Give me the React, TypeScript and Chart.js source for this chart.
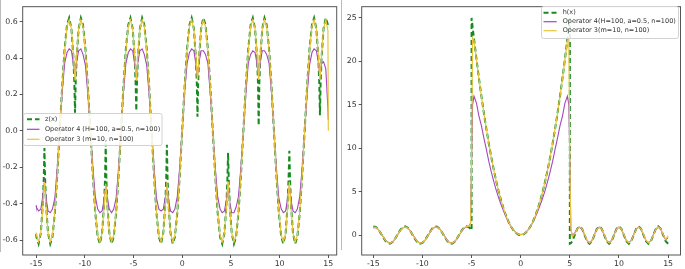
import React, { useEffect, useRef } from "react";
import { Chart, registerables } from "chart.js";
Chart.register(...registerables);

// ---------- Left panel: z(x) and two operator approximations ----------
const zX = [
  -15, -14.96, -14.74, -14.51, -14.31, -14.21, -14.14, -14.07, -13.97, -13.77, -13.54, -13.32, -13.07, -12.82,
  -12.57, -12.32, -12.07, -11.82, -11.6, -11.37, -11.17, -11.07, -11.0, -10.93, -10.83, -10.63, -10.4, -10.18, -9.93, -9.68,
  -9.42, -9.17, -8.92, -8.67, -8.45, -8.22, -8.02, -7.92, -7.85, -7.78, -7.68, -7.48, -7.25, -7.03, -6.78, -6.53,
  -6.28, -6.03, -5.78, -5.53, -5.31, -5.08, -4.88, -4.78, -4.71, -4.64, -4.54, -4.34, -4.11, -3.89, -3.64, -3.39,
  -3.14, -2.89, -2.64, -2.39, -2.17, -1.94, -1.74, -1.64, -1.57, -1.5, -1.4, -1.2, -0.97, -0.75, -0.5, -0.25,
  0, 0.25, 0.5, 0.75, 0.97, 1.2, 1.4, 1.5, 1.57, 1.64, 1.74, 1.94, 2.17, 2.39, 2.64, 2.89,
  3.14, 3.39, 3.64, 3.89, 4.11, 4.34, 4.54, 4.64, 4.71, 4.78, 4.88, 5.08, 5.31, 5.53, 5.78, 6.03,
  6.28, 6.53, 6.78, 7.03, 7.25, 7.48, 7.68, 7.78, 7.85, 7.92, 8.02, 8.22, 8.45, 8.67, 8.92, 9.17,
  9.42, 9.67, 9.92, 10.17, 10.39, 10.62, 10.82, 10.92, 11.0, 11.07, 11.17, 11.37, 11.6, 11.82, 12.07, 12.32,
  12.57, 12.82, 13.07, 13.32, 13.54, 13.77, 13.97, 14.07, 14.14, 14.21, 14.31, 14.51, 14.74, 14.96, 15,
];
const zY = [
  -0.567, -0.583, -0.62, -0.561, -0.406, -0.265, -0.095, -0.265, -0.406, -0.561, -0.62, -0.583, -0.449, -0.243,
  0, 0.243, 0.449, 0.583, 0.62, 0.561, 0.406, 0.265, 0.1, 0.265, 0.406, 0.561, 0.62, 0.583, 0.449, 0.243,
  0, -0.243, -0.449, -0.583, -0.62, -0.561, -0.406, -0.265, -0.07, -0.265, -0.406, -0.561, -0.62, -0.583, -0.449, -0.243,
  0, 0.243, 0.449, 0.583, 0.62, 0.561, 0.406, 0.265, 0.11, 0.265, 0.406, 0.561, 0.62, 0.583, 0.449, 0.243,
  0, -0.243, -0.449, -0.583, -0.62, -0.561, -0.406, -0.265, -0.077, -0.265, -0.406, -0.561, -0.62, -0.583, -0.449, -0.243,
  0, 0.243, 0.449, 0.583, 0.62, 0.561, 0.406, 0.265, 0.077, 0.265, 0.406, 0.561, 0.62, 0.583, 0.449, 0.243,
  0, -0.243, -0.449, -0.583, -0.62, -0.561, -0.406, -0.265, -0.12, -0.265, -0.406, -0.561, -0.62, -0.583, -0.449, -0.243,
  0, 0.243, 0.449, 0.583, 0.62, 0.561, 0.406, 0.265, 0.03, 0.265, 0.406, 0.561, 0.62, 0.583, 0.449, 0.243,
  0, -0.243, -0.449, -0.583, -0.62, -0.561, -0.406, -0.265, -0.11, -0.265, -0.406, -0.561, -0.62, -0.583, -0.449, -0.243,
  0, 0.243, 0.449, 0.583, 0.62, 0.561, 0.406, 0.265, 0.086, 0.265, 0.406, 0.561, 0.62, 0.583, 0.567,
];
const op4LeftY = [
  -0.41, -0.42, -0.44, -0.43, -0.36, -0.31, -0.28, -0.31, -0.37, -0.44, -0.45, -0.43, -0.37, -0.2,
  0, 0.21, 0.37, 0.43, 0.45, 0.44, 0.37, 0.33, 0.31, 0.33, 0.38, 0.44, 0.45, 0.42, 0.36, 0.2,
  0, -0.2, -0.36, -0.43, -0.45, -0.44, -0.38, -0.33, -0.3, -0.33, -0.37, -0.43, -0.45, -0.43, -0.37, -0.21,
  0, 0.21, 0.37, 0.43, 0.45, 0.44, 0.37, 0.33, 0.32, 0.34, 0.38, 0.44, 0.45, 0.42, 0.36, 0.2,
  0, -0.2, -0.37, -0.43, -0.44, -0.43, -0.37, -0.33, -0.31, -0.33, -0.38, -0.44, -0.45, -0.43, -0.36, -0.2,
  0, 0.21, 0.37, 0.43, 0.45, 0.44, 0.37, 0.32, 0.3, 0.33, 0.38, 0.44, 0.44, 0.42, 0.37, 0.2,
  0, -0.2, -0.36, -0.43, -0.45, -0.44, -0.38, -0.33, -0.31, -0.34, -0.39, -0.45, -0.45, -0.42, -0.36, -0.2,
  0, 0.2, 0.37, 0.42, 0.44, 0.43, 0.37, 0.32, 0.3, 0.33, 0.38, 0.44, 0.44, 0.42, 0.37, 0.21,
  0, -0.21, -0.37, -0.43, -0.45, -0.44, -0.37, -0.33, -0.31, -0.33, -0.38, -0.44, -0.45, -0.43, -0.36, -0.2,
  0, 0.2, 0.36, 0.43, 0.45, 0.44, 0.38, 0.33, 0.31, 0.33, 0.37, 0.38, 0.34, 0.12, 0.06,
];
const op3LeftY = [
  -0.56, -0.575, -0.61, -0.56, -0.42, -0.33, -0.28, -0.33, -0.42, -0.56, -0.61, -0.575, -0.44, -0.24,
  0, 0.24, 0.44, 0.575, 0.61, 0.56, 0.42, 0.33, 0.28, 0.33, 0.42, 0.56, 0.61, 0.575, 0.44, 0.24,
  0, -0.24, -0.44, -0.575, -0.61, -0.56, -0.42, -0.33, -0.29, -0.33, -0.42, -0.56, -0.61, -0.575, -0.44, -0.24,
  0, 0.24, 0.44, 0.575, 0.61, 0.56, 0.42, 0.33, 0.28, 0.33, 0.42, 0.56, 0.61, 0.575, 0.44, 0.24,
  0, -0.24, -0.44, -0.575, -0.61, -0.56, -0.42, -0.33, -0.28, -0.33, -0.42, -0.56, -0.61, -0.575, -0.44, -0.24,
  0, 0.24, 0.44, 0.575, 0.61, 0.56, 0.42, 0.33, 0.28, 0.33, 0.42, 0.56, 0.61, 0.575, 0.44, 0.24,
  0, -0.24, -0.44, -0.575, -0.61, -0.56, -0.42, -0.33, -0.28, -0.33, -0.42, -0.56, -0.61, -0.575, -0.44, -0.24,
  0, 0.24, 0.44, 0.575, 0.61, 0.56, 0.42, 0.33, 0.28, 0.33, 0.42, 0.56, 0.61, 0.575, 0.44, 0.24,
  0, -0.24, -0.44, -0.575, -0.61, -0.56, -0.42, -0.33, -0.28, -0.33, -0.42, -0.56, -0.61, -0.575, -0.44, -0.24,
  0, 0.24, 0.44, 0.575, 0.61, 0.56, 0.42, 0.33, 0.28, 0.33, 0.42, 0.56, 0.61, 0.55, 0.0,
];
const leftXTicks = [-15, -10, -5, 0, 5, 10, 15];
const leftYTicks = [-0.6, -0.4, -0.2, 0.0, 0.2, 0.4, 0.6];

// ---------- Right panel: h(x) and two operator approximations ----------
const hX = [
  -15, -14.75, -14.5, -14.25, -14, -13.75, -13.5, -13.25, -13, -12.75, -12.5, -12.25, -12, -11.75, -11.5, -11.25,
  -11, -10.75, -10.5, -10.25, -10, -9.75, -9.5, -9.25, -9, -8.75, -8.5, -8.25, -8, -7.75, -7.5, -7.25,
  -7, -6.75, -6.5, -6.25, -6, -5.75, -5.5, -5.25,
  -5.1, -5.0, -5.0, -4.9,
  -4.75, -4.5, -4.25, -4, -3.75, -3.5, -3.25, -3, -2.75, -2.5, -2.25, -2, -1.75, -1.5, -1.25, -1, -0.75, -0.5, -0.25,
  0, 0.25, 0.5, 0.75, 1, 1.25, 1.5, 1.75, 2, 2.25, 2.5, 2.75, 3, 3.25, 3.5, 3.75, 4, 4.25, 4.5, 4.75,
  4.9, 5.0, 5.0, 5.1,
  5.25, 5.5, 5.75, 6, 6.25, 6.5, 6.75, 7, 7.25, 7.5, 7.75, 8, 8.25, 8.5, 8.75, 9, 9.25, 9.5, 9.75, 10,
  10.25, 10.5, 10.75, 11, 11.25, 11.5, 11.75, 12, 12.25, 12.5, 12.75, 13, 13.25, 13.5, 13.75, 14, 14.25, 14.5, 14.75, 15,
];
const hY = [
  0.988, 0.941, 0.663, 0.224, -0.271, -0.701, -0.957, -0.98, -0.763, -0.358, 0.133, 0.592, 0.906, 0.998, 0.846, 0.487,
  0.009, -0.472, -0.837, -0.997, -0.913, -0.605, -0.15, 0.343, 0.751, 0.976, 0.961, 0.712, 0.287, -0.207, -0.65, -0.935,
  -0.99, -0.804, -0.42, 0.067, 0.537, 0.876, 1.0, 0.879,
  0.7, 0.544, 25, 24.01,
  22.56, 20.25, 18.06, 16, 14.06, 12.25, 10.56, 9, 7.56, 6.25, 5.06, 4, 3.06, 2.25, 1.56, 1, 0.56, 0.25, 0.06,
  0, 0.06, 0.25, 0.56, 1, 1.56, 2.25, 3.06, 4, 5.06, 6.25, 7.56, 9, 10.56, 12.25, 14.06, 16, 18.06, 20.25, 22.56,
  24.01, 25, -1, -0.951,
  -0.707, 0, 0.707, 1, 0.707, 0, -0.707, -1, -0.707, 0, 0.707, 1, 0.707, 0, -0.707, -1, -0.707, 0, 0.707, 1,
  0.707, 0, -0.707, -1, -0.707, 0, 0.707, 1, 0.707, 0, -0.707, -1, -0.707, 0, 0.707, 1, 0.707, 0, -0.707, -1,
];
const op4RightY = [
  0.82, 0.86, 0.66, 0.28, -0.18, -0.58, -0.84, -0.9, -0.76, -0.4, 0.06, 0.5, 0.82, 0.92, 0.82, 0.52,
  0.08, -0.38, -0.75, -0.92, -0.88, -0.63, -0.22, 0.26, 0.66, 0.9, 0.92, 0.73, 0.34, -0.12, -0.56, -0.86,
  -0.92, -0.8, -0.46, 0.0, 0.46, 0.8, 0.96, 1.05,
  1.4, 8.5, 8.5, 15.0,
  16.0, 15.2, 13.7, 12.6, 11.2, 9.9, 8.5, 7.3, 6.2, 5.2, 4.3, 3.5, 2.8, 2.1, 1.5, 1.0, 0.6, 0.3, 0.12,
  0.05, 0.12, 0.3, 0.6, 1.0, 1.5, 2.1, 2.8, 3.5, 4.3, 5.2, 6.2, 7.3, 8.5, 9.9, 11.2, 12.6, 13.7, 15.2, 16.0,
  15.0, 8.5, 8.5, 0.7,
  -0.1, 0.25, 0.72, 0.9, 0.66, 0.0, -0.64, -0.88, -0.62, 0.06, 0.7, 0.9, 0.64, 0.0, -0.66, -0.88, -0.62, 0.06, 0.7, 0.9,
  0.64, 0.0, -0.66, -0.88, -0.62, 0.06, 0.7, 0.9, 0.64, 0.0, -0.66, -0.88, -0.62, 0.06, 0.7, 0.9, 0.64, 0.0, -0.55, -0.3,
];
const op3RightY = [
  0.9, 0.88, 0.64, 0.24, -0.22, -0.63, -0.88, -0.92, -0.74, -0.36, 0.1, 0.54, 0.84, 0.93, 0.81, 0.48,
  0.04, -0.42, -0.78, -0.93, -0.87, -0.6, -0.18, 0.3, 0.7, 0.92, 0.92, 0.7, 0.3, -0.17, -0.6, -0.88,
  -0.93, -0.78, -0.42, 0.04, 0.5, 0.84, 0.98, 1.0,
  1.3, 8.5, 8.5, 22.7,
  22.4, 20.2, 18.0, 16, 14.06, 12.25, 10.56, 9, 7.56, 6.25, 5.06, 4, 3.06, 2.25, 1.56, 1.0, 0.58, 0.28, 0.1,
  0.05, 0.1, 0.28, 0.58, 1.0, 1.56, 2.25, 3.06, 4, 5.06, 6.25, 7.56, 9, 10.56, 12.25, 14.06, 16, 18.0, 20.2, 22.4,
  22.7, 8.0, 8.0, 0.8,
  -0.2, 0.15, 0.7, 0.92, 0.72, 0.08, -0.6, -0.9, -0.66, 0.02, 0.66, 0.92, 0.7, 0.05, -0.62, -0.9, -0.66, 0.02, 0.66, 0.92,
  0.7, 0.05, -0.62, -0.9, -0.66, 0.02, 0.66, 0.92, 0.7, 0.05, -0.62, -0.9, -0.66, 0.02, 0.66, 0.92, 0.7, 0.05, -0.5, -0.1,
];
const rightXTicks = [-15, -10, -5, 0, 5, 10, 15];
const rightYTicks = [0, 5, 10, 15, 20, 25];

const leftLabels = ["z(x)", "Operator 4 (H=100, a=0.5, n=100)", "Operator 3 (m=10, n=100)"];
const rightLabels = ["h(x)", "Operator 4(H=100, a=0.5, n=100)", "Operator 3(m=10, n=100)"];

const GREEN = "#178a1f";
const PURPLE = "#a447bf";
const YELLOW = "#e8c53c";
const FONT = "DejaVu Sans";

type LegendSpec = {
  box: [number, number, number, number];
  rowsY: number[];
  line: [number, number];
  textX: number;
  labels: string[];
};

function toPts(xs: number[], ys: number[]) {
  return xs.map((x, i) => ({ x, y: ys[i] }));
}

function makePlugin(spec: LegendSpec) {
  return {
    id: "frameAndLegend",
    afterDatasetsDraw(chart: any) {
      const { ctx, chartArea: a } = chart;
      ctx.save();
      ctx.strokeStyle = "#555";
      ctx.lineWidth = 1;
      ctx.strokeRect(a.left, a.top, a.right - a.left, a.bottom - a.top);
      ctx.restore();
    },
    afterDraw(chart: any) {
      const ctx = chart.ctx as CanvasRenderingContext2D;
      const [bx, by, bw, bh] = spec.box;
      ctx.save();
      const r = 2;
      ctx.beginPath();
      ctx.moveTo(bx + r, by);
      ctx.lineTo(bx + bw - r, by);
      ctx.quadraticCurveTo(bx + bw, by, bx + bw, by + r);
      ctx.lineTo(bx + bw, by + bh - r);
      ctx.quadraticCurveTo(bx + bw, by + bh, bx + bw - r, by + bh);
      ctx.lineTo(bx + r, by + bh);
      ctx.quadraticCurveTo(bx, by + bh, bx, by + bh - r);
      ctx.lineTo(bx, by + r);
      ctx.quadraticCurveTo(bx, by, bx + r, by);
      ctx.closePath();
      ctx.fillStyle = "rgba(255,255,255,0.85)";
      ctx.fill();
      ctx.strokeStyle = "#d2d2d2";
      ctx.lineWidth = 1;
      ctx.stroke();
      const styles = [
        { c: GREEN, w: 2, d: [5, 3] },
        { c: PURPLE, w: 1.2, d: [] as number[] },
        { c: YELLOW, w: 1.2, d: [] as number[] },
      ];
      spec.labels.forEach((lab, i) => {
        const y = spec.rowsY[i];
        const s = styles[i];
        ctx.beginPath();
        ctx.setLineDash(s.d);
        ctx.strokeStyle = s.c;
        ctx.lineWidth = s.w;
        ctx.moveTo(spec.line[0], y);
        ctx.lineTo(spec.line[1], y);
        ctx.stroke();
        ctx.setLineDash([]);
        ctx.fillStyle = "#333";
        ctx.font = `6.5px "${FONT}"`;
        ctx.textBaseline = "middle";
        ctx.textAlign = "left";
        ctx.fillText(lab, spec.textX, y);
      });
      ctx.restore();
    },
  };
}

function buildChart(
  canvas: HTMLCanvasElement,
  cfg: {
    datasets: { data: { x: number; y: number }[]; color: string; width: number; dash: number[]; order: number }[];
    xMin: number; xMax: number; yMin: number; yMax: number;
    xTicks: number[]; yTicks: number[]; yFmt: (v: number) => string;
    yWidth: number; padRight: number; padTop: number; xHeight: number;
    legend: LegendSpec;
  }
) {
  const tickFont = { family: FONT, size: 7.8 };
  return new Chart(canvas, {
    type: "line",
    data: {
      datasets: cfg.datasets.map((d) => ({
        data: d.data,
        borderColor: d.color,
        borderWidth: d.width,
        borderDash: d.dash,
        pointRadius: 0,
        fill: false,
        tension: 0,
        order: d.order,
      })),
    },
    options: {
      responsive: false,
      animation: false,
      devicePixelRatio: 1,
      events: [],
      layout: { padding: { left: 0, right: cfg.padRight, top: cfg.padTop, bottom: 0 } },
      plugins: { legend: { display: false }, tooltip: { enabled: false } },
      scales: {
        x: {
          type: "linear",
          min: cfg.xMin,
          max: cfg.xMax,
          afterBuildTicks: (s: any) => {
            s.ticks = cfg.xTicks.map((v) => ({ value: v }));
          },
          afterFit: (s: any) => {
            s.height = cfg.xHeight;
          },
          grid: { display: true, drawOnChartArea: false, drawTicks: true, tickLength: 3, color: "#555", tickColor: "#555" },
          border: { display: false },
          ticks: {
            font: tickFont,
            color: "#333",
            padding: 1,
            maxRotation: 0,
            autoSkip: false,
            callback: (v: any) => String(v),
          },
        },
        y: {
          type: "linear",
          min: cfg.yMin,
          max: cfg.yMax,
          afterBuildTicks: (s: any) => {
            s.ticks = cfg.yTicks.map((v) => ({ value: v }));
          },
          afterFit: (s: any) => {
            s.width = cfg.yWidth;
          },
          grid: { display: true, drawOnChartArea: false, drawTicks: true, tickLength: 3, color: "#555", tickColor: "#555" },
          border: { display: false },
          ticks: {
            font: tickFont,
            color: "#333",
            padding: 2,
            autoSkip: false,
            callback: (v: any) => cfg.yFmt(Number(v)),
          },
        },
      },
    },
    plugins: [makePlugin(cfg.legend)],
  } as any);
}

export default function App() {
  const leftRef = useRef<HTMLCanvasElement>(null);
  const rightRef = useRef<HTMLCanvasElement>(null);

  useEffect(() => {
    const c1 = buildChart(leftRef.current!, {
      datasets: [
        { data: toPts(zX, zY), color: GREEN, width: 2, dash: [5, 3], order: 3 },
        { data: toPts(zX, op4LeftY), color: PURPLE, width: 1.1, dash: [], order: 2 },
        { data: toPts(zX, op3LeftY), color: YELLOW, width: 1.2, dash: [], order: 1 },
      ],
      xMin: -16.37, xMax: 15.86, yMin: -0.682, yMax: 0.682,
      xTicks: leftXTicks, yTicks: leftYTicks,
      yFmt: (v) => v.toFixed(1),
      yWidth: 22.7, padRight: 8.3, padTop: 3.3, xHeight: 14,
      legend: {
        box: [23.5, 113.5, 138.5, 32],
        rowsY: [119.3, 129.3, 139.3],
        line: [27, 39.5],
        textX: 45,
        labels: leftLabels,
      },
    });
    const c2 = buildChart(rightRef.current!, {
      datasets: [
        { data: toPts(hX, hY), color: GREEN, width: 2, dash: [5, 3], order: 3 },
        { data: toPts(hX, op4RightY), color: PURPLE, width: 1.1, dash: [], order: 2 },
        { data: toPts(hX, op3RightY), color: YELLOW, width: 1.2, dash: [], order: 1 },
      ],
      xMin: -16.18, xMax: 16.26, yMin: -2.3, yMax: 26.3,
      xTicks: rightXTicks, yTicks: rightYTicks,
      yFmt: (v) => String(Math.round(v)),
      yWidth: 21.7, padRight: 4.5, padTop: 4, xHeight: 14,
      legend: {
        box: [201.5, 6.5, 137, 32],
        rowsY: [12.7, 21.7, 30.7],
        line: [203.5, 216.7],
        textX: 222.7,
        labels: rightLabels,
      },
    });
    return () => {
      c1.destroy();
      c2.destroy();
    };
  }, []);

  return (
    <div style={{ position: "fixed", left: 0, top: 0, width: 685, height: 269, background: "#fff", overflow: "hidden" }}>
      <canvas ref={leftRef} width={345} height={269} style={{ position: "absolute", left: 0, top: 0, width: 345, height: 269 }} />
      <canvas ref={rightRef} width={345} height={269} style={{ position: "absolute", left: 340, top: 0, width: 345, height: 269 }} />
      <div style={{ position: "absolute", left: 0, top: 0, width: 1, height: 252, background: "#bbb" }} />
      <div style={{ position: "absolute", left: 341, top: 0, width: 1, height: 250, background: "#bbb" }} />
    </div>
  );
}
